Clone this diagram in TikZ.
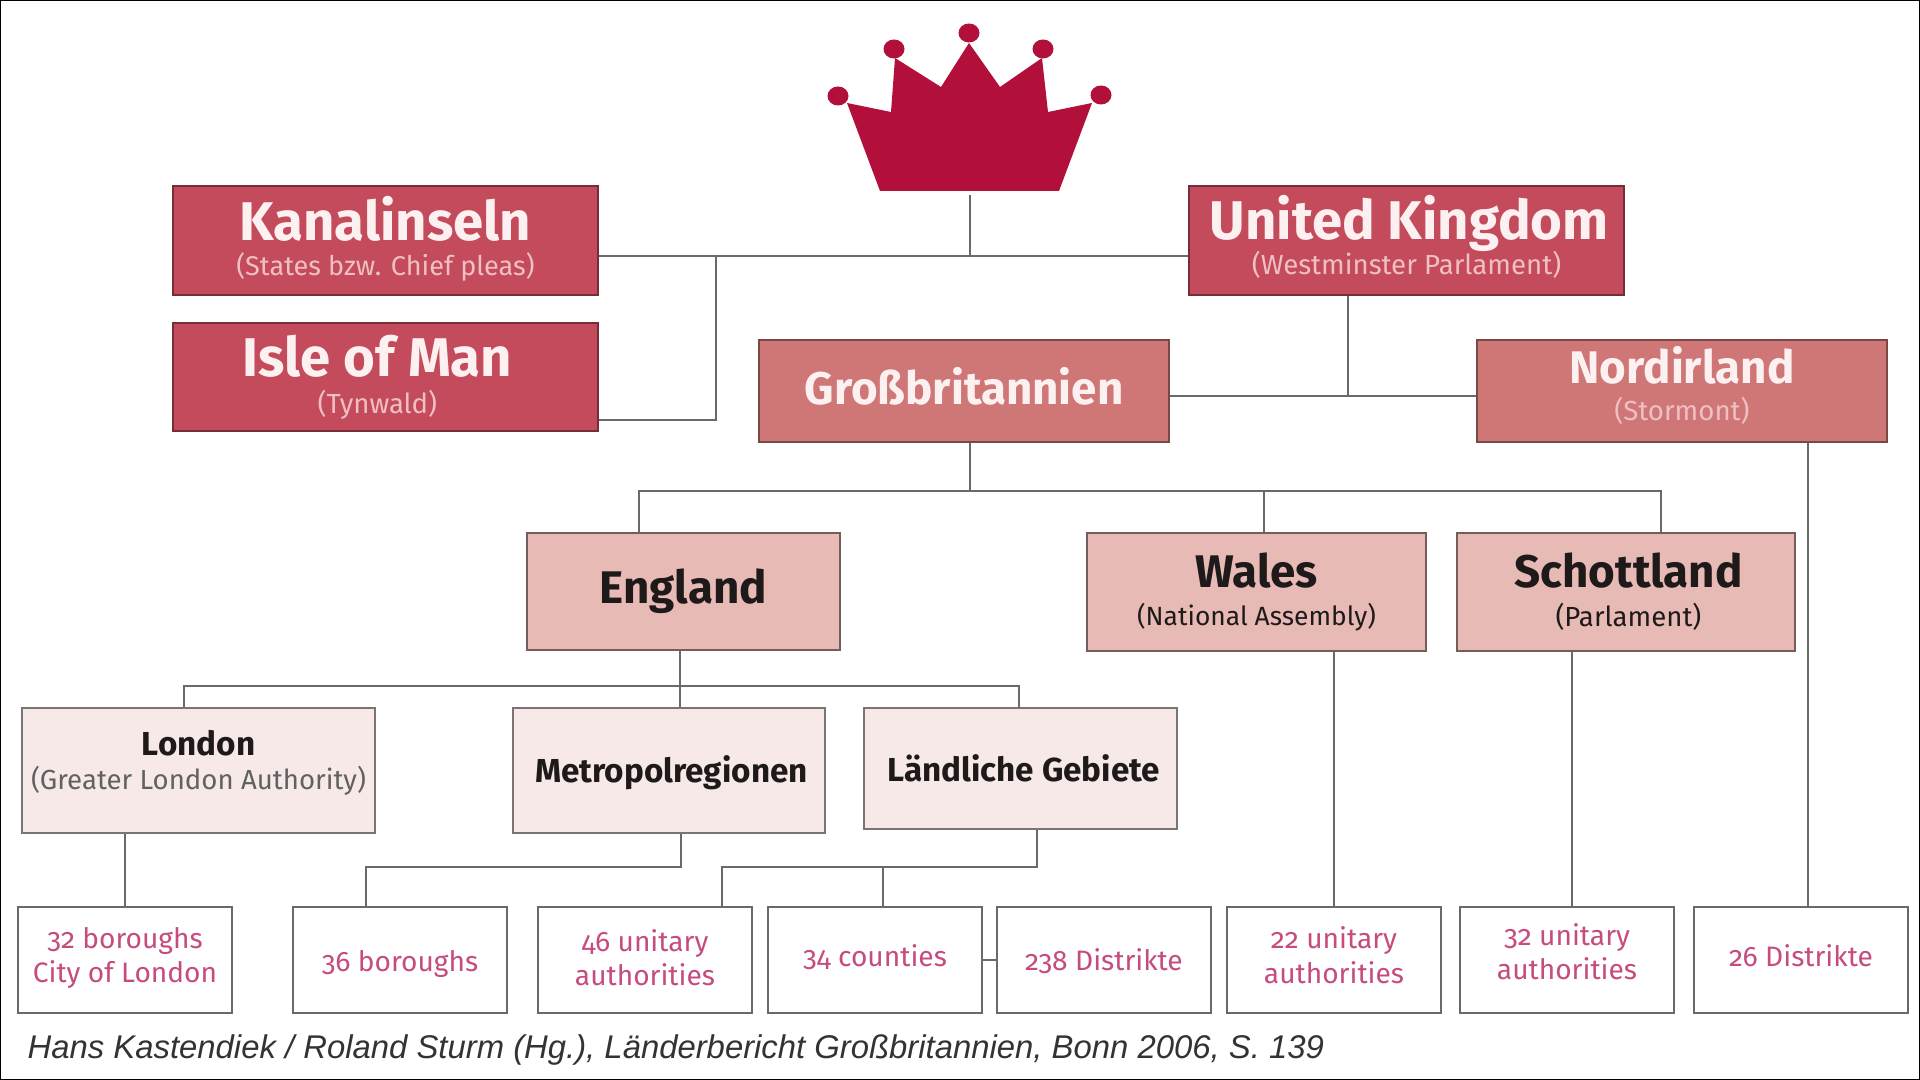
\documentclass[tikz,border=0pt]{standalone}
\usepackage{fontspec}
\setmainfont{Fira Sans}[Numbers=OldStyle]
\newfontfamily\footfont{Liberation Sans}
\usepackage{xcolor}
\usetikzlibrary{arrows.meta,positioning,calc}

\definecolor{crownred}{HTML}{B30F3B}
\definecolor{levelone}{HTML}{C44B5B}
\definecolor{leveltwo}{HTML}{CE7776}
\definecolor{levelthree}{HTML}{E8BAB6}
\definecolor{levelfour}{HTML}{F7E9E8}
\definecolor{titlewhite}{HTML}{FCF0F0}
\definecolor{subpink}{HTML}{F0BFC3}
\definecolor{distpink}{HTML}{C64C80}
\definecolor{darktext}{HTML}{1E1A1A}
\definecolor{linegray}{HTML}{6A6A6A}

\newcommand{\pxu}{*0.01cm}
\newcommand{\lift}[1]{\rule[-#1]{0pt}{0pt}}
\newcommand{\bigtitle}{\fontsize{15.5}{17}\selectfont\bfseries}
\newcommand{\midtitle}{\fontsize{13}{15}\selectfont\bfseries}
\newcommand{\smalltitle}{\fontsize{9.45}{11}\selectfont\bfseries}
\newcommand{\subline}{\fontsize{7.85}{9}\selectfont\mdseries}

\tikzset{
  box/.style={draw=linegray, line width=0.7pt, inner sep=0pt, align=center},
  boxone/.style={box, draw=levelone!60!black, fill=levelone, text=titlewhite},
  boxtwo/.style={box, draw=leveltwo!60!black, fill=leveltwo, text=titlewhite},
  boxthree/.style={box, draw=levelthree!50!black, fill=levelthree, text=darktext},
  boxfour/.style={box, draw=levelfour!50!black, fill=levelfour, text=darktext},
  conn/.style={draw=linegray, line width=0.8pt},
  distbox/.style={box, fill=white, minimum width=214\pxu, minimum height=106\pxu,
    text=distpink, font=\fontsize{8}{9.8}\selectfont},
}

\begin{document}
\begin{tikzpicture}[x=0.01cm, y=-0.01cm]
\useasboundingbox (0,0) rectangle (1920,1080);
% Frame
\draw[black, line width=0.5pt] (0,0) rectangle (1920,1080);

% Crown
\fill[crownred] (880,191) -- (1059,191) -- (1092,103) -- (1048,112) -- (1042,58) -- (1000,87)
  -- (969,43) -- (941,87) -- (895,58) -- (891,112) -- (847,103) -- cycle;
\foreach \bx/\by in {838/96, 894/49, 969/33, 1043/49, 1101/95} {
  \fill[crownred] (\bx,\by) ellipse (10.5 and 9.5);
}
\coordinate (crownfoot) at (970,195);

% Top level
\node[boxone, minimum width=425\pxu, minimum height=109\pxu] (kanal) at (385.5,240.5)
  {\bigtitle Kanalinseln\\[-2pt]\fontsize{7.7}{9}\selectfont\mdseries\textcolor{subpink}{(States bzw. Chief pleas)}\lift{2.4pt}};
\node[boxone, minimum width=425\pxu, minimum height=108\pxu] (man) at (385.5,377)
  {\bigtitle Isle of Man\hspace*{4.6pt}\\[-1.6pt]\subline\textcolor{subpink}{(Tynwald)}\hspace*{4.6pt}};
\node[boxone, minimum width=435\pxu, minimum height=109\pxu] (uk) at (1406.5,240.5)
  {\bigtitle\hspace*{1.6pt}United Kingdom\\[-2pt]\subline\textcolor{subpink}{(Westminster Parlament)}\lift{3pt}};

% Second level
\node[boxtwo, minimum width=410\pxu, minimum height=102\pxu] (gb) at (964,391)
  {\midtitle Großbritannien\lift{2.8pt}};
\node[boxtwo, minimum width=410\pxu, minimum height=102\pxu] (ni) at (1682,391)
  {\midtitle Nordirland\\[-1.6pt]\subline\textcolor{subpink}{(Stormont)}\lift{4.2pt}};

% Third level
\node[boxthree, minimum width=313\pxu, minimum height=117\pxu] (england) at (683.5,591.5)
  {\midtitle England};
\node[boxthree, minimum width=339\pxu, minimum height=118\pxu] (wales) at (1256.5,592)
  {\midtitle Wales\\[-1pt]\fontsize{7.5}{9}\selectfont\mdseries (National Assembly)};
\node[boxthree, minimum width=338\pxu, minimum height=118\pxu] (schott) at (1626,592)
  {\midtitle\hspace*{1.4pt}Schottland\\[-1pt]\subline\hspace*{1.4pt}(Parlament)};

% Regions
\node[boxfour, minimum width=353\pxu, minimum height=125\pxu] (london) at (198.5,770.5)
  {\smalltitle London\\[-2.5pt]\subline\textcolor{black!62}{(Greater London Authority)}\lift{6pt}};
\node[boxfour, minimum width=312\pxu, minimum height=125\pxu] (metro) at (669,770.5)
  {\smalltitle\hspace*{1.4pt}\rule{0pt}{9pt}Metropolregionen};
\node[boxfour, minimum width=313\pxu, minimum height=121\pxu] (land) at (1020.5,768.5)
  {\smalltitle\hspace*{1.8pt}\rule{0pt}{7.7pt}Ländliche Gebiete};

% Bottom row
\foreach \nm/\cx/\up/\lab in {dlon/125/2.8pt/{32 boroughs\\City of London}, dbor/400/0pt/{\rule{0pt}{8pt}36 boroughs},
    dmet/645/1.4pt/{46 unitary\\authorities}, dcou/875/2.8pt/34 counties, ddis/1104/0pt/{\rule{0pt}{7pt}238 Distrikte},
    dwal/1334/2.8pt/{22 unitary\\authorities}, dsco/1567/4.9pt/{32 unitary\\authorities}, dnir/1801/2.8pt/26 Distrikte} {
  \node[distbox] (\nm) at (\cx,960) {\lab\lift{\up}};
}

% Crown connections
\coordinate (topbus) at (crownfoot |- 0,256);
\coordinate (kanalbus) at (716,256);
\draw[conn] (crownfoot) -- (topbus);
\draw[conn] (kanal.east |- topbus) -- (uk.west |- topbus);
\draw[conn] (kanalbus) |- (man.east |- 0,420);

% UK to Great Britain and Northern Ireland
\coordinate (ukdrop) at (1348,396);
\draw[conn] (uk.south -| ukdrop) -- (ukdrop);
\draw[conn] (gb.east |- ukdrop) -- (ni.west |- ukdrop);

% Great Britain to the countries
\coordinate (gbbus) at (970,491);
\draw[conn] (gb.south -| gbbus) -- (gbbus);
\draw[conn] (england.north -| 639,0) |- (gbbus);
\draw[conn] (wales.north -| 1264,0) -- (1264,491);
\draw[conn] (schott.north -| 1661,0) |- (gbbus);

% England to the regions
\coordinate (engbus) at (680,686);
\draw[conn] (england.south -| engbus) -- (metro.north -| engbus);
\draw[conn] (london.north -| 184,0) |- (engbus);
\draw[conn] (land.north -| 1019,0) |- (engbus);

% Regions to the bottom row
\coordinate (metbus) at (681,867);
\coordinate (landbus) at (1037,867);
\draw[conn] (london.south -| dlon.north) -- (dlon.north);
\draw[conn] (metro.south -| metbus) -- (metbus) -| (366,907);
\draw[conn] (land.south -| landbus) -- (landbus) -| (dmet.north -| 722,0);
\draw[conn] (883,867) -- (883,907);
\draw[conn] (dcou.east) -- (ddis.west);
\draw[conn] (wales.south -| dwal.north) -- (dwal.north);
\draw[conn] (schott.south -| 1572,0) -- (dsco.north -| 1572,0);
\draw[conn] (ni.south -| 1808,0) -- (dnir.north -| 1808,0);

% Source line
\node[anchor=west, inner sep=0pt, font=\footfont\itshape\fontsize{9.34}{11}\selectfont, text=black!80] (source) at (27,1050)
  {Hans Kastendiek / Roland Sturm (Hg.), Länderbericht Großbritannien, Bonn 2006, S. 139};
\end{tikzpicture}
\end{document}
